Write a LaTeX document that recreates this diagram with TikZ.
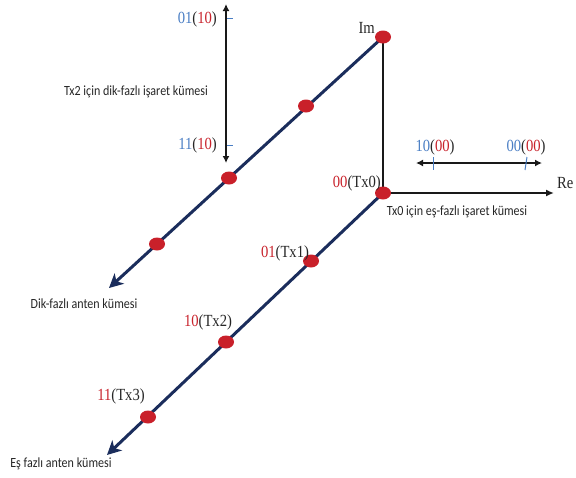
\documentclass[tikz,border=0pt]{standalone}
\usepackage{fontspec}
\setmainfont{Liberation Serif}
\newfontfamily\calfont{Carlito}
\usetikzlibrary{arrows.meta,shapes.geometric}
\definecolor{navy}{HTML}{1B2D5C}
\definecolor{dotred}{HTML}{C9202A}
\definecolor{lblred}{HTML}{C8232C}
\definecolor{lblblue}{HTML}{4A7EC4}
\definecolor{txt}{HTML}{262626}
\newcommand\hsq[1]{\scalebox{0.86}[1]{#1}}
\newcommand\rd[1]{\textcolor{lblred}{#1}}
\newcommand\bl[1]{\textcolor{lblblue}{#1}}
\tikzset{
  dot/.style={ellipse,fill=dotred,inner sep=0pt,minimum width=16pt,minimum height=13pt},
  navyline/.style={draw=navy,line width=3pt,-{Stealth[length=14pt,width=14pt,inset=4pt]}},
  axis/.style={draw=black!90,line width=2pt},
  dbl/.style={draw=black!90,line width=2pt,{Latex[length=7pt,width=7pt]}-{Latex[length=7pt,width=7pt]}},
  tick/.style={draw=lblblue,line width=1pt},
  serif/.style={font=\fontsize{17}{20}\selectfont,text=txt,inner sep=0pt},
  sans/.style={font=\calfont\fontsize{14}{16}\selectfont,text=txt,inner sep=0pt},
}
\begin{document}
\begin{tikzpicture}[x=1pt,y=-1pt]
\useasboundingbox (0,0) rectangle (576,477);
% coordinates
\coordinate (qend) at (109,288);
\coordinate (iend) at (107,455);
\coordinate (reend) at (554,193);
\coordinate (vtop) at (226,4);
\coordinate (vbot) at (226,163);
\coordinate (hl) at (416,163);
\coordinate (hr) at (542,163);
% axes
\draw[axis] (383,37) coordinate (imc) -- (383,193) coordinate (oc);
\draw[axis,-{Latex[length=8pt,width=7pt]}] (oc) -- (reend);
% diagonal lines
\draw[navyline] (imc) -- (qend);
\draw[navyline] (oc) -- (iend);
% double arrows
\draw[dbl] (vtop) -- (vbot);
\draw[dbl] (hl) -- (hr);
% ticks
\coordinate (t1a) at (227,18); \coordinate (t1b) at (233,18);
\coordinate (t2a) at (227,145); \coordinate (t2b) at (233,145);
\coordinate (t3a) at (433,157); \coordinate (t3b) at (433,170);
\coordinate (t4a) at (527,157); \coordinate (t4b) at (525,170);
\draw[tick] (t1a) -- (t1b);
\draw[tick] (t2a) -- (t2b);
\draw[tick] (t3a) -- (t3b);
\draw[tick] (t4a) -- (t4b);
% dots
\node[dot] (im) at (imc) {};
\node[dot] (o) at (oc) {};
\node[dot] (q1) at (306,106) {};
\node[dot] (q2) at (229,178) {};
\node[dot] (q3) at (157,244) {};
\node[dot] (i1) at (311,261) {};
\node[dot] (i2) at (226,342) {};
\node[dot] (i3) at (148,417) {};
% labels
\node[serif,anchor=east] (lim) at (375,28) {\hsq{Im}};
\node[serif,anchor=west] (lre) at (557,183) {\hsq{Re}};
\node[serif,anchor=east] (l0110) at (217,19) {\hsq{\bl{01}(\rd{10})}};
\node[serif,anchor=east] (l1110) at (217,145) {\hsq{\bl{11}(\rd{10})}};
\node[serif] (l1000) at (435,147) {\hsq{\bl{10}(\rd{00})}};
\node[serif] (l0000) at (526,147) {\hsq{\bl{00}(\rd{00})}};
\node[serif,anchor=east] (ltx0) at (381,183) {\hsq{\rd{00}(Tx0)}};
\node[serif] (ltx1) at (285,253) {\hsq{\rd{01}(Tx1)}};
\node[serif] (ltx2) at (208,322) {\hsq{\rd{10}(Tx2)}};
\node[serif] (ltx3) at (121,396) {\hsq{\rd{11}(Tx3)}};
\node[sans] (ldik) at (136,92) {\hsq{Tx2 için dik-fazlı işaret kümesi}};
\node[sans] (les) at (457,212) {\hsq{Tx0 için eş-fazlı işaret kümesi}};
\node[sans] (ldikant) at (84,304) {\hsq{Dik-fazlı anten kümesi}};
\node[sans] (lesant) at (61,464) {\hsq{Eş fazlı anten kümesi}};
\end{tikzpicture}
\end{document}
